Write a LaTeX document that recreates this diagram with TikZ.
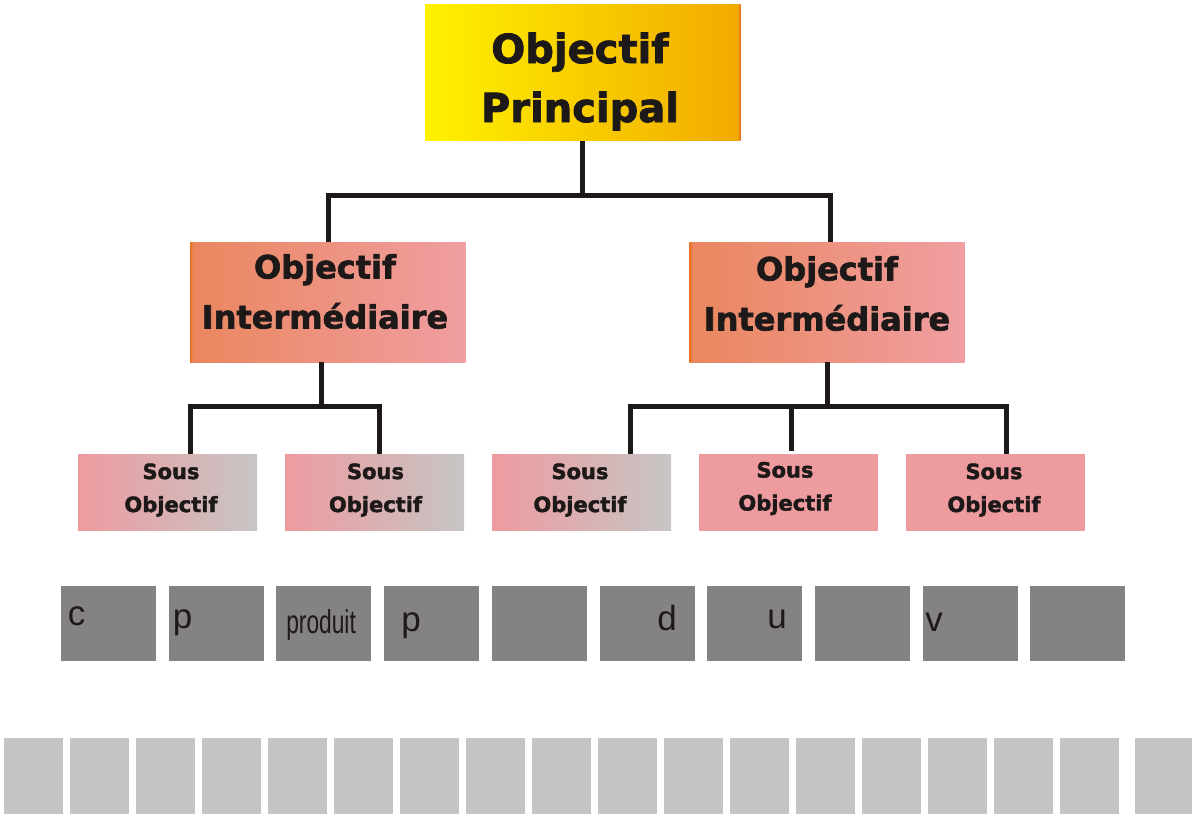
\documentclass[tikz,border=0pt]{standalone}
\usepackage{fontspec}
\usepackage{graphicx}
\usetikzlibrary{calc}
\newfontfamily\boxfont{DejaVu Sans}[BoldFeatures={FakeBold=2}]
\newfontfamily\cellfont{Liberation Sans}
\definecolor{mainL}{RGB}{255,242,0}
\definecolor{mainR}{RGB}{242,170,0}
\definecolor{mainEdge}{RGB}{236,120,20}
\definecolor{midL}{RGB}{232,112,30}
\definecolor{midA}{RGB}{234,135,95}
\definecolor{midR}{RGB}{240,158,162}
\definecolor{subL}{RGB}{238,155,160}
\definecolor{subR}{RGB}{198,197,196}
\definecolor{cellD}{RGB}{132,130,130}
\definecolor{cellL}{RGB}{196,196,194}
\definecolor{ink}{RGB}{30,25,25}
\pgfdeclarehorizontalshading{mainshade}{100bp}{color(0bp)=(mainL); color(25bp)=(mainL); color(74.6bp)=(mainR); color(74.8bp)=(mainEdge); color(100bp)=(mainEdge)}
\pgfdeclarehorizontalshading{midshade}{100bp}{color(0bp)=(midL); color(25bp)=(midL); color(25.6bp)=(midA); color(75bp)=(midR); color(100bp)=(midR)}
\pgfdeclarehorizontalshading{subshade}{100bp}{color(0bp)=(subL); color(25bp)=(subL); color(75bp)=(subR); color(100bp)=(subR)}
\begin{document}
\begin{tikzpicture}[x=0.75pt,y=0.75pt,yscale=-1,xscale=1,
  box/.style={inner sep=0pt,outer sep=0pt},
  mainbox/.style={box,shade,shading=mainshade,minimum width=0.75*315.5pt,minimum height=0.75*136.5pt},
  midbox/.style={box,shade,shading=midshade,minimum width=0.75*275.5pt,minimum height=0.75*120pt},
  subbox/.style={box,minimum width=0.75*179pt,minimum height=0.75*76.5pt},
  cellbox/.style={box,fill=cellD,minimum width=0.75*95pt,minimum height=0.75*75pt},
  stripbox/.style={box,fill=cellL,minimum width=0.75*59pt,minimum height=0.75*76pt},
  maintext/.style={inner sep=0pt,align=center,text=ink,font=\boxfont\bfseries\fontsize{30}{44.25}\selectfont},
  midtext/.style={inner sep=0pt,align=center,text=ink,font=\boxfont\bfseries\fontsize{24}{37.5}\selectfont},
  subtext/.style={inner sep=0pt,align=center,text=ink,font=\boxfont\bfseries\fontsize{15.75}{24.75}\selectfont},
  celltext/.style={inner sep=0pt,anchor=base west,text=ink,font=\cellfont\fontsize{26.25}{30}\selectfont},
  link/.style={draw=ink,line width=3.75pt}]
\useasboundingbox (0,0) rectangle (1192,814);

%Shape: Rectangle [main]
\node[mainbox] (main) at (582.75,72.25) {};
%Shape: Rectangle [intermediate]
\node[midbox] (i1) at (327.75,302) {};
\node[midbox] (i2) at (827,302) {};
%Shape: Rectangle [sub]
\foreach \i/\x in {1/167.5,2/374.5,3/581.5}
  \node[subbox,shade,shading=subshade] (s\i) at (\x,492.25) {};
\foreach \i/\x in {4/788.5,5/995.5}
  \node[subbox,fill=subL] (s\i) at (\x,492.25) {};
%Shape: Rectangle [cells]
\foreach \i in {0,...,9}
  \node[cellbox] (g\i) at ({108.5+107.7*\i},623.5) {};
%Shape: Rectangle [strip]
\foreach \i in {0,...,16}
  \node[stripbox] (l\i) at ({33.5+66*\i},776) {};
\node[stripbox] (l17) at (1164,776) {};

%Straight Lines [main to intermediate]
\coordinate (jt) at (582.5,195);
\draw[link] (main.south) -- (main.south |- jt);
\draw[link] ($(i1.north)+(1,0)$) |- (jt) -| ($(i2.north)+(3,0)$);
%Straight Lines [left branch]
\coordinate (jl) at (321,406.5);
\draw[link] (i1.south -| jl) -- (jl);
\draw[link] ($(s1.north)+(22.5,0)$) |- (jl) -| ($(s2.north)+(4.5,0)$);
%Straight Lines [right branch]
\coordinate (jr) at (827.5,406.5);
\draw[link] (i2.south -| jr) -- (jr);
\draw[link] ($(s3.north)+(48.5,0)$) |- (jr) -| ($(s5.north)+(10.5,0)$);
\draw[link] ($(s4.north)+(2.5,-3)$) -- ($(s4.north |- jr)+(2.5,0)$);

% Text Node
\node[maintext] (maint) at (580,81.5) {Objectif\\Principal};
% Text Node
\node[midtext] (i1t) at (325,291.5) {Objectif\\Interm\'ediaire};
% Text Node
\node[midtext] (i2t) at (827,293.5) {Objectif\\Interm\'ediaire};
% Text Node
\foreach \i/\x/\y in {1/171/490,2/375.5/490,3/580/490,4/785/488.5,5/994/490}
  \node[subtext] (s\i t) at (\x,\y) {Sous\\Objectif};
% Text Node
\node[celltext] (c0) at (67.5,625) {c};
\node[celltext] (c1) at (172.5,628) {p};
\node[celltext,font=\cellfont\fontsize{24.75}{30}\selectfont] (c2) at (286,633) {\scalebox{0.69}[1]{produit}};
\node[celltext] (c3) at (401,631) {p};
\node[celltext] (c5) at (657,630) {d};
\node[celltext] (c6) at (767,628) {u};
\node[celltext] (c8) at (925,631) {v};

\end{tikzpicture}
\end{document}
